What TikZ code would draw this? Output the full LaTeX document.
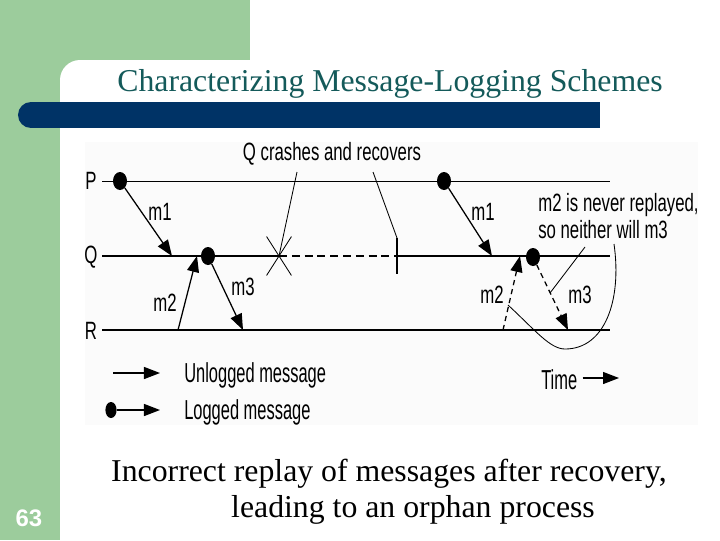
\documentclass[tikz,border=0pt]{standalone}
\usepackage{fontspec}
\setmainfont{Liberation Serif}
\newfontfamily\diagfont[FakeStretch=0.67]{Liberation Sans}
\newfontfamily\legfont[FakeStretch=0.6]{Liberation Sans}
\newfontfamily\numfont{Liberation Sans}
\usetikzlibrary{arrows.meta, shapes.geometric, shapes.misc}
\definecolor{slidegreen}{RGB}{156,204,156}
\definecolor{barblue}{RGB}{0,51,102}
\definecolor{titleteal}{RGB}{20,90,90}

\begin{document}
\begin{tikzpicture}[x=0.025cm, y=-0.025cm,
    lbl/.style={font=\diagfont\fontsize{17.8}{19.2}\selectfont, inner sep=0pt},
    leg/.style={font=\legfont\fontsize{19.5}{22}\selectfont, inner sep=0pt},
    slide/.style={font=\fontsize{22.6}{27}\selectfont, inner sep=0pt},
    dot/.style={ellipse, fill=black, inner sep=0pt, minimum width=0.35cm, minimum height=0.45cm},
    msg/.style={-{Triangle[length=0.4cm, width=0.3cm]}, line width=0.9pt},
    lost/.style={msg, dash pattern=on 0.13cm off 0.1cm},
    axis/.style={line width=1.2pt},
    crash/.style={cross out, draw, line width=0.6pt, inner sep=0pt, minimum width=0.6cm, minimum height=0.95cm},
    pointer/.style={line width=0.6pt}]
\useasboundingbox (0,0) rectangle (720,540);
% slide background
\fill[slidegreen] (0,0) rectangle (250,80);
\fill[slidegreen] (0,0) rectangle (60,540);
\fill[white] (60,540) [rounded corners=0.5cm] -- (60,60) -- (720,60) [sharp corners] -- (720,540) -- cycle;
\draw[barblue, line width=0.65cm, line cap=round] (31,115) -- (400,115);
\fill[barblue] (300,102) rectangle (600,128);
\fill[gray!3] (85,142) rectangle (698,425);
\node[slide, text=titleteal, anchor=base] (title) at (390,91) {Characterizing Message-Logging Schemes};

% process lines
\coordinate (Pa) at (102,181);
\coordinate (Pb) at (610,181);
\coordinate (Qa) at (102,256);
\coordinate (Qb) at (610,256);
\coordinate (Ra) at (102,330);
\coordinate (Rb) at (610,330);
\node[lbl] (lP) at (91,181) {P};
\node[lbl] (lQ) at (91,257) {Q};
\node[lbl] (lR) at (91,331) {R};
\draw[line width=0.6pt] (Pa) -- (Pb);
\draw[axis] (Ra) -- (Rb);

% crash and recovery of Q
\node[crash] (crash) at (279,256) {};
\coordinate (recov) at (397,256);
\coordinate (rtop) at (397,238);
\coordinate (rbot) at (397,274);
\draw[axis] (Qa) -- (crash.center);
\draw[line width=1pt, dash pattern=on 0.2cm off 0.12cm] (crash.center) -- (recov);
\draw[axis] (recov) -- (Qb);
\draw[line width=1.4pt] (rtop) -- (rbot);
\node[lbl] (crashtxt) at (332,154) {Q crashes and recovers};
\coordinate (cp1) at (297,172);
\coordinate (cp2) at (373,172);
\draw[pointer] (cp1) -- (crash.center);
\draw[pointer] (cp2) -- (rtop);

% messages before the crash
\node[dot] (p1) at (120,181) {};
\node[dot] (q1) at (208,256) {};
\coordinate (m1end) at (172,256);
\coordinate (m2start) at (178,330);
\coordinate (m2end) at (197,256);
\coordinate (m3end) at (243,330);
\draw[msg] (p1) -- (m1end);
\draw[msg] (m2start) -- (m2end);
\draw[msg] (q1) -- (m3end);
\node[lbl] (m1a) at (160,212) {m1};
\node[lbl] (m2a) at (165,303) {m2};
\node[lbl] (m3a) at (243,287) {m3};

% replay after recovery
\node[dot] (p2) at (444,181) {};
\node[dot] (q2) at (533,257) {};
\coordinate (m1bend) at (492,256);
\coordinate (m2bstart) at (503,330);
\coordinate (m2bend) at (520,256);
\coordinate (m3bend) at (568,330);
\draw[msg] (p2) -- (m1bend);
\draw[lost] (m2bstart) -- (m2bend);
\draw[lost] (q2) -- (m3bend);
\node[lbl] (m1b) at (483,212) {m1};
\node[lbl] (m2b) at (492,295) {m2};
\node[lbl] (m3b) at (580,295) {m3};
\node[lbl, anchor=west, align=left, font=\diagfont\fontsize{17.8}{19.5}\selectfont] (note) at (538,216) {m2 is never replayed,\\so neither will m3};
\coordinate (np1) at (585,247);
\coordinate (np2) at (550,293);
\draw[pointer] (np1) -- (np2);
\coordinate (oa) at (508,305);
\coordinate (ob) at (614,244);
\draw[pointer] (oa) .. controls (535,330) and (550,349) .. (565,349) .. controls (605,349) and (622,300) .. (ob);

% legend
\coordinate (ua) at (113,373);
\coordinate (ub) at (160,373);
\draw[msg] (ua) -- (ub);
\node[leg, anchor=west] (unlogged) at (184,375) {Unlogged message};
\node[dot, minimum width=0.28cm, minimum height=0.4cm] (ldot) at (111,410) {};
\coordinate (lb) at (160,410);
\draw[msg] (ldot) -- (lb);
\node[leg, anchor=west] (logged) at (184,412) {Logged message};
\node[leg, anchor=west] (time) at (541,380) {Time};
\coordinate (tb) at (619,378);
\draw[msg] ([xshift=0.125cm]time.east |- tb) -- (tb);

% caption
\node[slide, anchor=base] (cap1) at (389,481) {Incorrect replay of messages after recovery,};
\node[slide, anchor=base] (cap2) at (413,517) {leading to an orphan process};
\node[font=\numfont\bfseries\fontsize{17}{20}\selectfont, text=white, inner sep=0pt] (pagenum) at (29,518) {63};
\end{tikzpicture}
\end{document}
